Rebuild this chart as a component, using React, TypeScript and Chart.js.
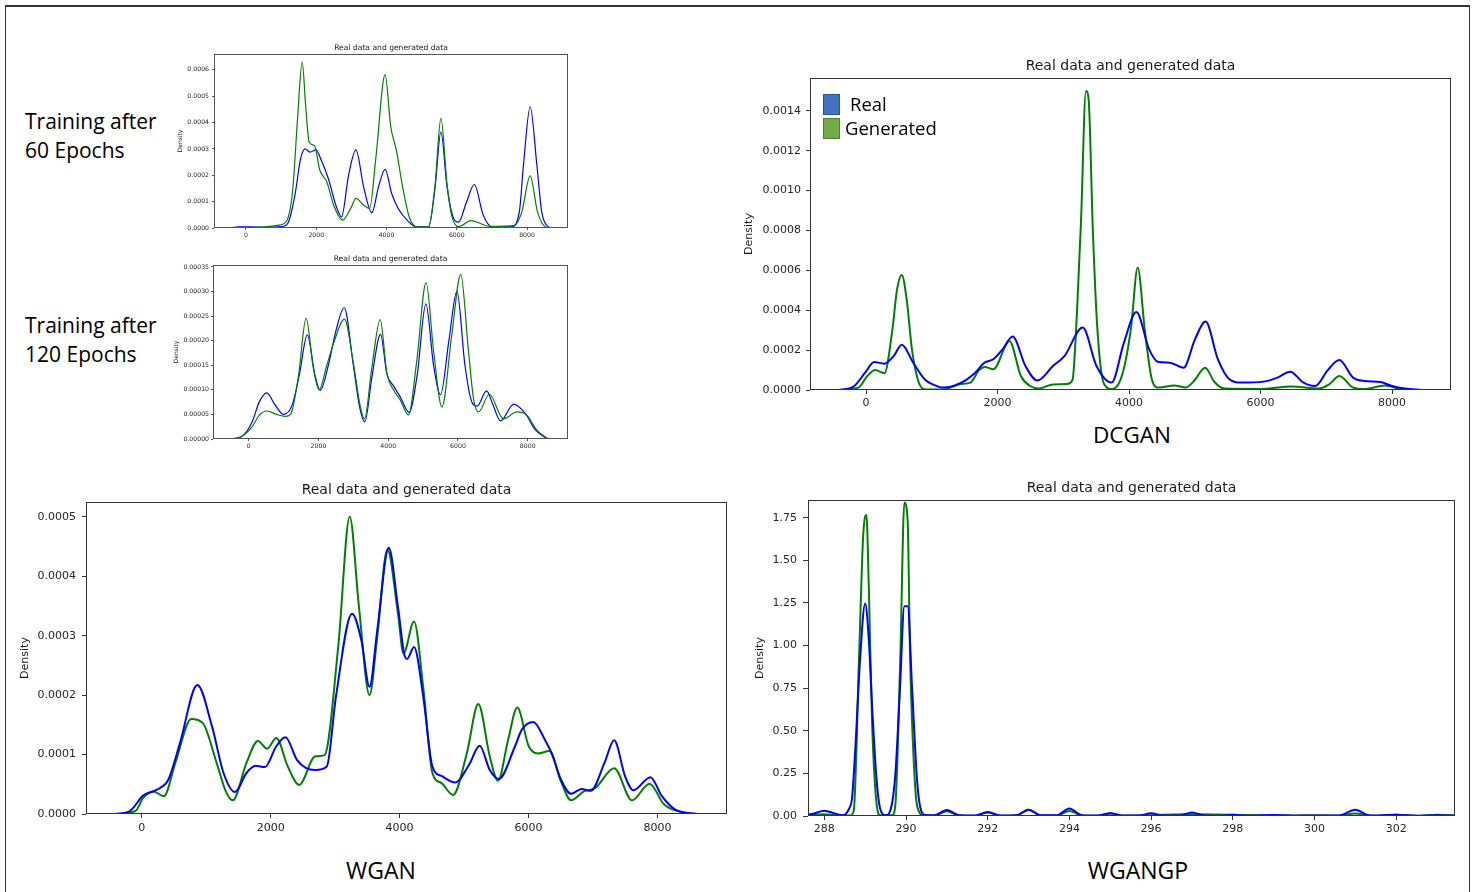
import React, { useEffect, useRef } from "react";
import { Chart, registerables } from "chart.js";

Chart.register(...registerables);

// ---------------- data ----------------
type Pt = [number, number];

const TITLE_TEXT = "Real data and generated data";
const Y_LABEL = "Density";
const SERIES_NAMES = ["Real", "Generated"];

const KDE_X_TICKS = [0, 2000, 4000, 6000, 8000];
const EP60_Y_TICKS = [0, 0.0001, 0.0002, 0.0003, 0.0004, 0.0005, 0.0006];
const EP120_Y_TICKS = [0, 0.00005, 0.0001, 0.00015, 0.0002, 0.00025, 0.0003, 0.00035];
const DCGAN_Y_TICKS = [0, 0.0002, 0.0004, 0.0006, 0.0008, 0.001, 0.0012, 0.0014];
const WGAN_Y_TICKS = [0, 0.0001, 0.0002, 0.0003, 0.0004, 0.0005];
const WGANGP_X_TICKS = [288, 290, 292, 294, 296, 298, 300, 302];
const WGANGP_Y_TICKS = [0, 0.25, 0.5, 0.75, 1.0, 1.25, 1.5, 1.75];

const EP60_REAL: Pt[] = [[-500,0],[-200,4e-6],[100,4e-6],[600,2e-6],[1000,5e-6],[1200,2.0e-5],[1400,1.3e-4],[1550,2.6e-4],[1680,3.0e-4],[1820,2.88e-4],[1990,2.96e-4],[2150,2.55e-4],[2350,1.85e-4],[2550,9.0e-5],[2720,4.2e-5],[2920,2.0e-4],[3130,2.96e-4],[3350,1.55e-4],[3580,5.8e-5],[3780,1.6e-4],[3960,2.22e-4],[4150,1.3e-4],[4350,7.0e-5],[4600,2.8e-5],[4850,4e-6],[5200,4e-6],[5380,1.5e-4],[5550,3.65e-4],[5720,1.6e-4],[5900,4.0e-5],[6050,2.2e-5],[6270,9.5e-5],[6500,1.65e-4],[6750,5.0e-5],[7000,4e-6],[7550,4e-6],[7780,6.0e-5],[7900,2.4e-4],[8090,4.6e-4],[8280,2.4e-4],[8420,6.0e-5],[8600,5e-6],[8700,0]];
const EP60_GEN: Pt[] = [[-500,0],[0,2e-6],[500,4e-6],[900,1.0e-5],[1150,2.5e-5],[1330,1.45e-4],[1470,4.2e-4],[1600,6.3e-4],[1700,4.6e-4],[1800,3.25e-4],[1950,3.12e-4],[2100,2.2e-4],[2300,1.75e-4],[2500,8.5e-5],[2750,3.0e-5],[3000,8.0e-5],[3130,1.12e-4],[3350,8.7e-5],[3520,7.4e-5],[3700,2.7e-4],[3960,5.82e-4],[4120,3.85e-4],[4280,2.95e-4],[4460,1.55e-4],[4650,4.0e-5],[4900,3e-6],[5200,5e-6],[5380,1.6e-4],[5550,4.17e-4],[5720,1.7e-4],[5850,5.0e-5],[6050,5e-6],[6400,2.8e-5],[6950,6e-6],[7650,1.0e-5],[7850,6.0e-5],[8090,1.98e-4],[8300,6.0e-5],[8540,3e-6],[8700,0]];

const EP120_REAL: Pt[] = [[-550,0],[-200,5e-6],[100,3.5e-5],[300,7.5e-5],[516,9.4e-5],[750,7.0e-5],[1000,5.0e-5],[1250,7.0e-5],[1450,1.3e-4],[1680,2.12e-4],[1900,1.3e-4],[2050,9.9e-5],[2300,1.55e-4],[2500,2.2e-4],[2740,2.67e-4],[3000,1.5e-4],[3180,6.5e-5],[3330,3.5e-5],[3530,1.25e-4],[3780,2.13e-4],[3960,1.33e-4],[4150,1.08e-4],[4350,8.5e-5],[4600,5.4e-5],[4830,1.3e-4],[5080,2.75e-4],[5300,1.5e-4],[5500,9.0e-5],[5740,2.0e-4],[5970,3.01e-4],[6200,1.5e-4],[6400,7.5e-5],[6550,6.7e-5],[6820,9.8e-5],[7000,7.0e-5],[7220,3.7e-5],[7600,7.1e-5],[7950,5.0e-5],[8200,2.0e-5],[8550,0]];
const EP120_GEN: Pt[] = [[-550,0],[-250,3e-6],[100,2.5e-5],[300,4.8e-5],[520,5.7e-5],[800,5.0e-5],[1050,4.6e-5],[1200,5.0e-5],[1430,1.3e-4],[1645,2.46e-4],[1850,1.45e-4],[2020,1.0e-4],[2240,1.5e-4],[2430,1.94e-4],[2744,2.44e-4],[3000,1.55e-4],[3190,7.0e-5],[3320,4.1e-5],[3530,1.45e-4],[3770,2.43e-4],[3960,1.35e-4],[4150,1.0e-4],[4340,8.0e-5],[4580,4.9e-5],[4820,1.6e-4],[5085,3.18e-4],[5300,1.8e-4],[5540,6.5e-5],[5820,2.1e-4],[6080,3.35e-4],[6300,1.8e-4],[6450,8.0e-5],[6590,5.5e-5],[6900,9.1e-5],[7300,4.1e-5],[7690,5.5e-5],[7980,4.8e-5],[8260,1.8e-5],[8600,0]];

const DCGAN_REAL: Pt[] = [[-418,0],[-190,1.7e-5],[-14,8.7e-5],[125,1.4e-4],[279,1.32e-4],[420,1.7e-4],[544,2.27e-4],[718,1.37e-4],[892,5.4e-5],[1100,1.7e-5],[1170,1.2e-5],[1450,3.7e-5],[1660,8.7e-5],[1800,1.37e-4],[1937,1.54e-4],[2077,2.04e-4],[2230,2.68e-4],[2425,1.2e-4],[2606,4.8e-5],[2843,1.2e-4],[3017,1.7e-4],[3296,3.13e-4],[3505,1.2e-4],[3735,3.7e-5],[3923,2.38e-4],[4111,3.91e-4],[4306,2.04e-4],[4446,1.4e-4],[4620,1.37e-4],[4829,1.12e-4],[5003,2.54e-4],[5164,3.43e-4],[5352,1.54e-4],[5526,5.4e-5],[5700,3.7e-5],[6049,4.2e-5],[6258,6.2e-5],[6453,9.2e-5],[6641,4.0e-5],[6829,2.0e-5],[7024,1.0e-4],[7199,1.5e-4],[7408,6.2e-5],[7582,4.5e-5],[7826,4.0e-5],[8000,2.0e-5],[8195,7e-6],[8453,0]];
const DCGAN_GEN: Pt[] = [[-418,0],[-118,1.2e-5],[21,7.0e-5],[139,1.0e-4],[279,8.4e-5],[400,3.0e-4],[470,5.0e-4],[544,5.77e-4],[620,4.5e-4],[700,2.0e-4],[800,4.0e-5],[900,3e-6],[1170,3e-6],[1450,3.0e-5],[1589,3.7e-5],[1720,1.0e-4],[1810,1.15e-4],[1937,1.04e-4],[2181,2.46e-4],[2355,7.0e-5],[2495,2.0e-5],[2634,8e-6],[2843,2.8e-5],[3052,3.0e-5],[3140,5.0e-5],[3210,4.0e-4],[3270,8.5e-4],[3345,1.5e-3],[3385,1.46e-3],[3450,8.0e-4],[3520,3.0e-4],[3620,3.0e-5],[3749,5e-6],[3900,8.0e-5],[4030,3.1e-4],[4132,6.14e-4],[4240,3.0e-4],[4350,5.0e-5],[4450,1.2e-5],[4690,2.3e-5],[4864,1.3e-5],[5000,5.0e-5],[5157,1.12e-4],[5300,4.0e-5],[5456,7e-6],[6000,5e-6],[6467,1.7e-5],[6885,7e-6],[7050,3.0e-5],[7199,7.0e-5],[7408,1.2e-5],[7582,5e-6],[7896,2.3e-5],[8139,3e-6],[8453,0]];

const WGAN_REAL: Pt[] = [[-442,0],[-192,4.5e-6],[21,3.1e-5],[235,4.1e-5],[413,5.8e-5],[591,1.19e-4],[862,2.17e-4],[1090,1.47e-4],[1268,6.9e-5],[1446,3.7e-5],[1624,6.9e-5],[1766,8.1e-5],[1909,7.9e-5],[2087,1.14e-4],[2229,1.29e-4],[2407,9.1e-5],[2550,7.7e-5],[2692,7.4e-5],[2870,8.0e-5],[3013,1.98e-4],[3262,3.37e-4],[3405,2.93e-4],[3533,2.14e-4],[3654,3.1e-4],[3832,4.48e-4],[3974,3.49e-4],[4081,2.65e-4],[4117,2.61e-4],[4224,2.81e-4],[4366,1.98e-4],[4509,8.0e-5],[4651,6.4e-5],[4865,5.3e-5],[5078,8.3e-5],[5242,1.15e-4],[5399,7.4e-5],[5541,5.9e-5],[5791,1.14e-4],[5897,1.42e-4],[6075,1.55e-4],[6254,1.25e-4],[6360,1.02e-4],[6503,5.8e-5],[6660,3.4e-5],[6823,4.2e-5],[6966,3.9e-5],[7179,8.6e-5],[7329,1.24e-4],[7500,6.3e-5],[7628,4.0e-5],[7892,6.2e-5],[8070,3.0e-5],[8284,7e-6],[8618,0]];
const WGAN_GEN: Pt[] = [[-442,0],[-100,5e-6],[21,2.7e-5],[178,3.8e-5],[342,3.0e-5],[520,8.6e-5],[769,1.6e-4],[947,1.53e-4],[1161,8.6e-5],[1304,3.8e-5],[1410,2.3e-5],[1624,8.6e-5],[1802,1.23e-4],[1944,1.1e-4],[2087,1.28e-4],[2265,8.0e-5],[2443,4.9e-5],[2692,9.7e-5],[2835,9.9e-5],[3048,2.82e-4],[3226,5.0e-4],[3369,3.49e-4],[3533,2.0e-4],[3654,2.99e-4],[3810,4.45e-4],[3974,3.38e-4],[4060,2.7e-4],[4224,3.24e-4],[4366,2.14e-4],[4509,6.9e-5],[4651,5.2e-5],[4829,3.2e-5],[5043,1.02e-4],[5221,1.85e-4],[5399,9.7e-5],[5527,5.6e-5],[5684,1.25e-4],[5826,1.79e-4],[6004,1.14e-4],[6147,1.02e-4],[6325,1.06e-4],[6503,5.5e-5],[6660,2.3e-5],[6859,3.8e-5],[7037,4.4e-5],[7329,7.7e-5],[7607,2.3e-5],[7877,5.1e-5],[8105,1.6e-5],[8497,0]];

const WGANGP_REAL: Pt[] = [[287.5,0.003],[287.75,0.015],[288.0,0.031],[288.25,0.015],[288.45,0.004],[288.6,0.04],[288.68,0.11],[288.76,0.4],[288.87,0.9],[289.0,1.247],[289.09,1.03],[289.17,0.64],[289.28,0.21],[289.37,0.04],[289.5,0.004],[289.62,0.035],[289.74,0.25],[289.85,0.74],[289.96,1.23],[290.04,1.23],[290.15,0.74],[290.27,0.21],[290.35,0.05],[290.47,0.006],[290.7,0.004],[291.0,0.035],[291.3,0.004],[291.7,0.003],[292.0,0.024],[292.3,0.003],[292.7,0.004],[293.0,0.037],[293.3,0.004],[293.7,0.005],[294.0,0.044],[294.3,0.005],[294.7,0.003],[295.0,0.016],[295.3,0.003],[295.7,0.003],[296.0,0.016],[296.3,0.003],[296.7,0.003],[297.0,0.02],[297.3,0.003],[297.7,0.002],[298.0,0.008],[298.4,0.002],[299.0,0.006],[299.5,0.002],[300.0,0.003],[300.6,0.003],[301.0,0.037],[301.35,0.003],[302.0,0.007],[302.5,0.002],[303.0,0.005],[303.5,0.002]];
const WGANGP_GEN: Pt[] = [[287.5,0.002],[288.0,0.01],[288.4,0.002],[288.64,0.003],[288.72,0.03],[288.85,0.93],[288.95,1.64],[289.03,1.766],[289.09,1.33],[289.17,0.54],[289.28,0.07],[289.37,0.004],[289.66,0.004],[289.74,0.07],[289.86,0.93],[289.96,1.84],[290.04,1.73],[290.1,0.93],[290.23,0.15],[290.33,0.02],[290.43,0.002],[290.7,0.003],[291.0,0.028],[291.3,0.003],[291.7,0.002],[292.0,0.02],[292.3,0.002],[292.7,0.003],[293.0,0.037],[293.3,0.003],[293.7,0.003],[294.0,0.03],[294.3,0.003],[294.7,0.002],[295.0,0.015],[295.3,0.002],[296.0,0.005],[297.0,0.01],[298.0,0.008],[299.0,0.003],[300.0,0.003],[300.6,0.002],[301.0,0.015],[301.4,0.002],[302.0,0.008],[302.5,0.002],[303.0,0.008],[303.5,0.003]];

// ---------------- styling / layout ----------------
const BLUE = "#0000ff";
const GREEN = "#008000";
const PLOT_FONT = "'DejaVu Sans', 'Liberation Sans', sans-serif";
const ANNOT_FONT = "'Open Sans', 'Noto Sans', sans-serif";

type Spec = {
  box: { left: number; top: number; width: number; height: number };
  yAxisW: number;
  xAxisH: number;
  rightPad: number;
  titleSize: number;
  titlePadTop: number;
  titlePadBottom: number;
  tickSize: number;
  labelSize: number;
  xMin: number;
  xMax: number;
  yMax: number;
  xTicks: number[];
  yTicks: number[];
  xDec: number;
  yDec: number;
  yTickLen: number;
  yTickPad: number;
  xTickLen: number;
  xTickPad: number;
  lineWidth: number;
  realOnTop: boolean;
  frameColor: string;
  real: Pt[];
  gen: Pt[];
};

const framePlugin = {
  id: "axesFrame",
  afterDatasetsDraw(chart: any, _args: any, opts: any) {
    const { ctx, chartArea } = chart;
    const { left, top, right, bottom } = chartArea;
    ctx.save();
    ctx.strokeStyle = opts.color || "#333";
    ctx.lineWidth = 1;
    ctx.strokeRect(Math.round(left) + 0.5, Math.round(top) + 0.5, Math.round(right - left) - 1, Math.round(bottom - top) - 1);
    ctx.restore();
  },
};

function KdeChart({ spec }: { spec: Spec }) {
  const ref = useRef<HTMLCanvasElement>(null);
  useEffect(() => {
    const canvas = ref.current;
    if (!canvas) return;
    const font = (size: number) => ({ family: PLOT_FONT, size, lineHeight: 1.2, weight: "normal" as const });
    const mk = (label: string, pts: Pt[], color: string, order: number) => ({
      label,
      data: pts.map(([x, y]) => ({ x, y })),
      borderColor: color,
      backgroundColor: color,
      borderWidth: spec.lineWidth,
      pointRadius: 0,
      pointHoverRadius: 0,
      fill: false,
      cubicInterpolationMode: "monotone" as const,
      order,
    });
    const chart = new Chart(canvas, {
      type: "line",
      data: {
        datasets: [
          mk(SERIES_NAMES[0], spec.real, BLUE, spec.realOnTop ? 0 : 1),
          mk(SERIES_NAMES[1], spec.gen, GREEN, spec.realOnTop ? 1 : 0),
        ],
      },
      options: {
        animation: false,
        responsive: false,
        maintainAspectRatio: false,
        events: [],
        layout: { padding: { left: 0, right: spec.rightPad, top: 0, bottom: 0 } },
        plugins: {
          legend: { display: false },
          tooltip: { enabled: false },
          title: {
            display: true,
            text: TITLE_TEXT,
            fullSize: false,
            color: "#1a1a1a",
            font: font(spec.titleSize),
            padding: { top: spec.titlePadTop, bottom: spec.titlePadBottom },
          },
          axesFrame: { color: spec.frameColor },
        } as any,
        scales: {
          x: {
            type: "linear",
            min: spec.xMin,
            max: spec.xMax,
            afterBuildTicks: (s: any) => {
              s.ticks = spec.xTicks.map((v) => ({ value: v }));
            },
            afterFit: (s: any) => {
              s.height = spec.xAxisH;
            },
            grid: { display: true, drawOnChartArea: false, drawTicks: true, tickLength: spec.xTickLen, color: spec.frameColor, tickColor: spec.frameColor },
            border: { display: false },
            ticks: {
              font: font(spec.tickSize),
              color: "#262626",
              padding: spec.xTickPad,
              maxRotation: 0,
              minRotation: 0,
              autoSkip: false,
              callback: (v: any) => Number(v).toFixed(spec.xDec),
            },
          },
          y: {
            type: "linear",
            min: 0,
            max: spec.yMax,
            afterBuildTicks: (s: any) => {
              s.ticks = spec.yTicks.map((v) => ({ value: v }));
            },
            afterFit: (s: any) => {
              s.width = spec.yAxisW;
            },
            grid: { display: true, drawOnChartArea: false, drawTicks: true, tickLength: spec.yTickLen, color: spec.frameColor, tickColor: spec.frameColor },
            border: { display: false },
            title: {
              display: true,
              text: Y_LABEL,
              color: "#1a1a1a",
              font: font(spec.labelSize),
              padding: { top: 0, bottom: 0 },
            },
            ticks: {
              font: font(spec.tickSize),
              color: "#262626",
              padding: spec.yTickPad,
              autoSkip: false,
              callback: (v: any) => Number(v).toFixed(spec.yDec),
            },
          },
        },
      } as any,
      plugins: [framePlugin],
    });
    return () => chart.destroy();
  }, [spec]);
  const b = spec.box;
  return (
    <canvas
      ref={ref}
      width={b.width}
      height={b.height}
      style={{ position: "absolute", left: b.left, top: b.top, width: b.width, height: b.height }}
    />
  );
}

const SMALL_BASE = {
  rightPad: 6,
  titleSize: 7.6,
  tickSize: 6.2,
  labelSize: 6,
  xTicks: KDE_X_TICKS,
  xDec: 0,
  yTickLen: 2,
  yTickPad: 3,
  xTickLen: 2,
  xTickPad: 1.5,
  lineWidth: 1.2,
  realOnTop: false,
  frameColor: "#555",
  xAxisH: 16,
};

const BIG_BASE = {
  rightPad: 6,
  titleSize: 14,
  tickSize: 11,
  labelSize: 11,
  xDec: 0,
  yTickLen: 4,
  yTickPad: 5,
  xTickLen: 4,
  xTickPad: 3,
  lineWidth: 2,
  realOnTop: true,
  frameColor: "#333",
  xAxisH: 28,
};

const SPEC_EP60: Spec = {
  ...SMALL_BASE,
  box: { left: 177, top: 40, width: 397, height: 204 },
  yAxisW: 37,
  titlePadTop: 3.2,
  titlePadBottom: 1.68,
  xMin: -911,
  xMax: 9167,
  yMax: 0.00066,
  yTicks: EP60_Y_TICKS,
  yDec: 4,
  real: EP60_REAL,
  gen: EP60_GEN,
};

const SPEC_EP120: Spec = {
  ...SMALL_BASE,
  box: { left: 173, top: 251, width: 401, height: 204 },
  yAxisW: 40,
  yTickPad: 2,
  titlePadTop: 3.4,
  titlePadBottom: 1.48,
  xMin: -1024,
  xMax: 9155,
  yMax: 0.000354,
  yTicks: EP120_Y_TICKS,
  yDec: 5,
  real: EP120_REAL,
  gen: EP120_GEN,
};

const SPEC_DCGAN: Spec = {
  ...BIG_BASE,
  box: { left: 743, top: 54, width: 714, height: 364 },
  yAxisW: 67,
  titlePadTop: 4.2,
  titlePadBottom: 3.0,
  xMin: -852,
  xMax: 8897,
  yMax: 0.001565,
  xTicks: KDE_X_TICKS,
  yTicks: DCGAN_Y_TICKS,
  yDec: 4,
  real: DCGAN_REAL,
  gen: DCGAN_GEN,
};

const SPEC_WGAN: Spec = {
  ...BIG_BASE,
  box: { left: 19, top: 478, width: 714, height: 364 },
  yAxisW: 67,
  yTickPad: 6,
  xTickPad: 3.5,
  titlePadTop: 3.6,
  titlePadBottom: 3.6,
  xMin: -866,
  xMax: 9080,
  yMax: 0.000525,
  xTicks: KDE_X_TICKS,
  yTicks: WGAN_Y_TICKS,
  yDec: 4,
  real: WGAN_REAL,
  gen: WGAN_GEN,
};

const SPEC_WGANGP: Spec = {
  ...BIG_BASE,
  box: { left: 754, top: 476, width: 707, height: 368 },
  yAxisW: 54,
  yTickLen: 5,
  yTickPad: 6,
  titlePadTop: 3.9,
  titlePadBottom: 3.3,
  xMin: 287.6,
  xMax: 303.44,
  yMax: 1.854,
  xTicks: WGANGP_X_TICKS,
  yTicks: WGANGP_Y_TICKS,
  yDec: 2,
  real: WGANGP_REAL,
  gen: WGANGP_GEN,
};

const annot: React.CSSProperties = {
  position: "absolute",
  fontFamily: ANNOT_FONT,
  color: "#000",
  whiteSpace: "nowrap",
  margin: 0,
};

export default function App() {
  return (
    <div style={{ position: "absolute", left: 0, top: 0, width: 1476, height: 892, overflow: "hidden", background: "#fff" }}>
      <div
        style={{
          position: "absolute",
          left: 5,
          top: 5,
          width: 1463,
          height: 920,
          borderTop: "2px solid #333",
          borderLeft: "1px solid #333",
          borderRight: "1px solid #333",
        }}
      />
      <div style={{ ...annot, left: 25, top: 107, fontSize: 21, lineHeight: "28.5px" }}>
        Training after
        <br />
        60 Epochs
      </div>
      <div style={{ ...annot, left: 25, top: 311, fontSize: 21, lineHeight: "28.5px" }}>
        Training after
        <br />
        120 Epochs
      </div>
      <KdeChart spec={SPEC_EP60} />
      <KdeChart spec={SPEC_EP120} />
      <KdeChart spec={SPEC_DCGAN} />
      <KdeChart spec={SPEC_WGAN} />
      <KdeChart spec={SPEC_WGANGP} />
      {/* legend of the DCGAN panel */}
      <div style={{ position: "absolute", left: 823, top: 94, width: 17, height: 21, boxSizing: "border-box", background: "#4472C4", border: "1px solid #2F528F" }} />
      <div style={{ position: "absolute", left: 823, top: 118, width: 17, height: 21, boxSizing: "border-box", background: "#70AD47", border: "1px solid #507E32" }} />
      <div style={{ ...annot, left: 850, top: 92, fontSize: 18.5, lineHeight: "24px" }}>{SERIES_NAMES[0]}</div>
      <div style={{ ...annot, left: 845, top: 116, fontSize: 18.5, lineHeight: "24px" }}>{SERIES_NAMES[1]}</div>
      <div style={{ ...annot, left: 1032, width: 200, textAlign: "center", top: 420, fontSize: 22.5, lineHeight: "30px" }}>DCGAN</div>
      <div style={{ ...annot, left: 281, width: 200, textAlign: "center", top: 855, fontSize: 23, lineHeight: "30px" }}>WGAN</div>
      <div style={{ ...annot, left: 1038, width: 200, textAlign: "center", top: 855, fontSize: 23, lineHeight: "30px" }}>WGANGP</div>
    </div>
  );
}
